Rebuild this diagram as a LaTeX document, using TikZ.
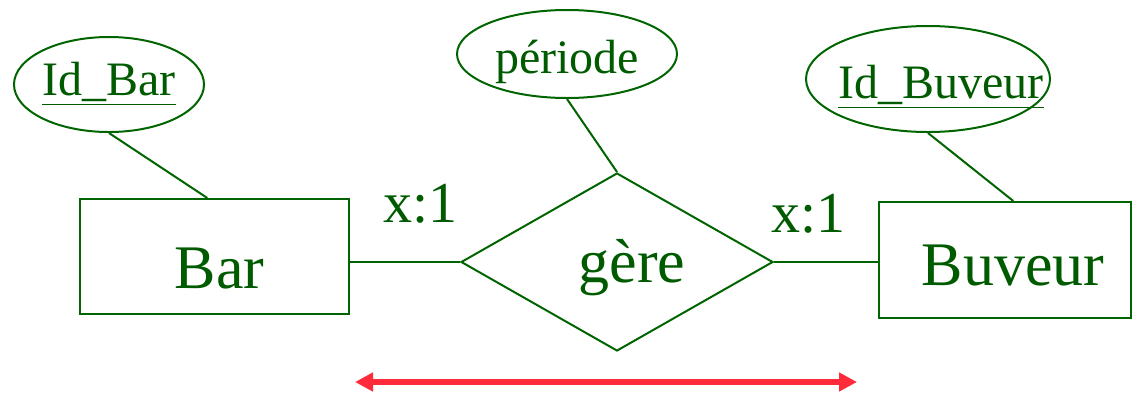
\documentclass[tikz,border=0pt]{standalone}
\usepackage{fontspec}
\setmainfont{Liberation Serif}
\usetikzlibrary{positioning,shapes.geometric,arrows.meta,calc}
\definecolor{erline}{HTML}{006400}
\definecolor{ertext}{HTML}{005A00}
\definecolor{spanred}{HTML}{FF2A3A}
\tikzset{
  entity/.style   = {draw=erline, line width=1pt, rectangle, inner sep=0pt, text=ertext, font=\rmfamily\fontsize{31}{36}\selectfont},
  relation/.style = {draw=erline, line width=1pt, diamond, inner sep=0pt, text=ertext, font=\rmfamily\fontsize{31}{36}\selectfont},
  attrib/.style   = {draw=erline, line width=1pt, ellipse, inner sep=0pt, text=ertext, font=\rmfamily\fontsize{24}{28}\selectfont},
  lift/.style     = {text height=#1, text depth=0pt},
  link/.style     = {draw=erline, line width=1pt},
  card/.style     = {text=ertext, inner sep=0pt, anchor=base, font=\rmfamily\fontsize{29}{34}\selectfont},
  span/.style     = {{Triangle[length=9pt,width=9pt]}-{Triangle[length=9pt,width=9pt]}, line width=3pt, draw=spanred},
}
\begin{document}
\begin{tikzpicture}[x=0.5pt, y=-0.5pt]
\useasboundingbox (0,0) rectangle (1133,392);

%% entities and relation
\node[entity, minimum width=134.5pt, minimum height=57.5pt, lift=31.5pt] (bar) at (214.5,256.5) {\hspace*{5pt}Bar};
\node[relation, minimum width=156pt, minimum height=89pt, lift=20pt] (gere) at (617,262) {\hspace*{15pt}gère};
\node[entity, minimum width=126pt, minimum height=58pt, lift=25pt] (buveur) at (1005,260) {\hspace*{8pt}Buveur};

%% attributes
\node[attrib, minimum width=95pt, minimum height=47.5pt, lift=10.5pt] (idbar) at (109,84.5) {\underline{Id\_Bar}};
\node[attrib, minimum width=110pt, minimum height=44pt, lift=19pt] (periode) at (567,54) {période};
\node[attrib, minimum width=122pt, minimum height=53pt, lift=19pt] (idbuveur) at (928,79)
  {\makebox[40pt]{\hspace*{13pt}\underline{Id\_Buveur}}};

%% links
\draw[link] (idbar.south) -- (bar.97);
\draw[link] (periode.south) -- (gere.north);
\draw[link] (idbuveur.south) -- (buveur.82);
\draw[link] (bar.east |- gere.west) -- node[card, pos=0.64, yshift=20pt]{x:1} (gere.west);
\draw[link] (gere.east) -- node[card, pos=0.33, yshift=15pt]{x:1} (buveur.west |- gere.east);

%% span arrow
\coordinate (spanL) at (355,382);
\coordinate (spanR) at (857,382);
\draw[span] (spanL) -- (spanR);

\end{tikzpicture}
\end{document}
